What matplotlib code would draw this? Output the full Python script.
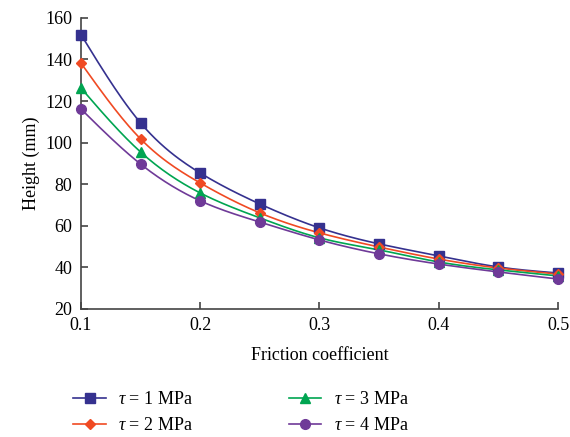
import numpy as np
import matplotlib.pyplot as plt
from matplotlib.lines import Line2D

plt.rcParams['font.family'] = ['Liberation Serif', 'DejaVu Serif']
plt.rcParams['mathtext.fontset'] = 'custom'
plt.rcParams['mathtext.it'] = 'Liberation Serif:italic'
plt.rcParams['mathtext.rm'] = 'Liberation Serif'

# Daten
friction = [0.1, 0.15, 0.2, 0.25, 0.3, 0.35, 0.4, 0.45, 0.5]
h_1mpa = [152, 109.5, 85.4, 70.5, 59.0, 51.3, 45.5, 40.2, 37.3]
h_2mpa = [138.3, 101.8, 80.6, 66.2, 56.6, 49.8, 44.0, 39.7, 36.8]
h_3mpa = [126.3, 95.5, 75.8, 63.8, 54.2, 48.4, 42.6, 38.8, 35.9]
h_4mpa = [116.2, 89.7, 72.0, 61.8, 53.2, 46.5, 41.6, 37.8, 34.4]
labels = [r'$\tau$ = 1 MPa', r'$\tau$ = 2 MPa', r'$\tau$ = 3 MPa', r'$\tau$ = 4 MPa']


def natural_spline(x, y, n=200):
    # kubischer Spline, natürliche Randbedingungen
    x = np.asarray(x, float)
    y = np.asarray(y, float)
    k = len(x)
    h = np.diff(x)
    A = np.zeros((k, k))
    b = np.zeros(k)
    A[0, 0] = A[-1, -1] = 1
    for i in range(1, k - 1):
        A[i, i - 1] = h[i - 1]
        A[i, i] = 2 * (h[i - 1] + h[i])
        A[i, i + 1] = h[i]
        b[i] = 3 * ((y[i + 1] - y[i]) / h[i] - (y[i] - y[i - 1]) / h[i - 1])
    c = np.linalg.solve(A, b)
    xs = np.linspace(x[0], x[-1], n)
    idx = np.clip(np.searchsorted(x, xs) - 1, 0, k - 2)
    dx = xs - x[idx]
    bb = (y[idx + 1] - y[idx]) / h[idx] - h[idx] * (2 * c[idx] + c[idx + 1]) / 3
    d = (c[idx + 1] - c[idx]) / (3 * h[idx])
    ys = y[idx] + bb * dx + c[idx] * dx ** 2 + d * dx ** 3
    return xs, ys


series = [h_1mpa, h_2mpa, h_3mpa, h_4mpa]
colors = ['#35318f', '#f04a23', '#00a551', '#6f3a98']
markers = ['s', 'D', '^', 'o']
msizes = [7, 5, 7, 7]

fig = plt.figure(figsize=(5.7, 4.37), dpi=100)
ax = fig.add_axes([0.142, 0.293, 0.837, 0.666])

handles = []
for ys, col, m, ms, lab in zip(series, colors, markers, msizes, labels):
    sx, sy = natural_spline(friction, ys)
    ax.plot(sx, sy, color=col, lw=1.2)
    ax.plot(friction, ys, ls='none', marker=m, color=col, ms=ms, clip_on=False, zorder=3)
    handles.append(Line2D([], [], color=col, lw=1.2, marker=m, ms=ms, label=lab))

ax.set_xlim(0.1, 0.5)
ax.set_ylim(20, 160)
ax.set_xticks([0.1, 0.2, 0.3, 0.4, 0.5])
ax.set_xticklabels(['0.1', '0.2', '0.3', '0.4', '0.5'])
ax.set_yticks(range(20, 161, 20))
ax.spines['top'].set_visible(False)
ax.spines['right'].set_visible(False)
for s in ['left', 'bottom']:
    ax.spines[s].set_color('#444444')
    ax.spines[s].set_linewidth(1.2)
ax.tick_params(direction='in', length=5, width=1.2, color='#444444', labelsize=13, pad=6)
ax.set_xlabel('Friction coefficient', fontsize=13, labelpad=9)
ax.set_ylabel('Height (mm)', fontsize=13)

fig.legend(handles=handles, ncol=2, loc='upper left', bbox_to_anchor=(0.100, 0.142),
           frameon=False, fontsize=13, handlelength=1.8, columnspacing=5.3,
           labelspacing=0.5, handletextpad=0.7, borderpad=0.4)

plt.savefig('out.png', dpi=100)
